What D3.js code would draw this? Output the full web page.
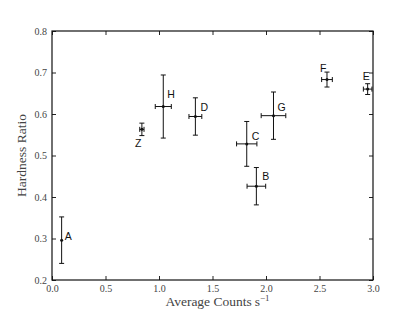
<!DOCTYPE html>
<html>
<head>
<meta charset="UTF-8">
<script src="https://d3js.org/d3.v7.min.js"></script>
<style>
  body { margin: 0; background: #fff; }
  svg { display: block; }
  .tick text { font-family: "Liberation Serif", serif; font-size: 10px; fill: #444; }
</style>
</head>
<body>
<svg width="415" height="312"></svg>
<script>
  // sources and their measurements
  const names = ["A", "Z", "H", "D", "C", "G", "F", "E", "B"];
  const counts = [0.09, 0.84, 1.04, 1.34, 1.82, 2.07, 2.57, 2.95, 1.91];
  const countsErr = [0.0, 0.02, 0.075, 0.06, 0.095, 0.115, 0.05, 0.04, 0.087];
  const hardness = [0.296, 0.563, 0.618, 0.594, 0.528, 0.596, 0.683, 0.660, 0.426];
  const hardnessErr = [0.056, 0.015, 0.076, 0.045, 0.054, 0.057, 0.018, 0.013, 0.045];
  const xTicks = [0.0, 0.5, 1.0, 1.5, 2.0, 2.5, 3.0];
  const yTicks = [0.2, 0.3, 0.4, 0.5, 0.6, 0.7, 0.8];

  const svg = d3.select("svg");
  const mLeft = 52, mRight = 373, mTop = 31, mBottom = 280;

  const x = d3.scaleLinear().domain([0, 3]).range([mLeft, mRight]);
  const y = d3.scaleLinear().domain([0.2, 0.8]).range([mBottom, mTop]);

  // axes with inward ticks on all four sides
  const fmt = d3.format(".1f");
  svg.append("g").attr("transform", `translate(0,${mBottom})`)
    .call(d3.axisBottom(x).tickValues(xTicks).tickFormat(fmt).tickSizeInner(-4).tickSizeOuter(0).tickPadding(5));
  svg.append("g").attr("transform", `translate(${mLeft},0)`)
    .call(d3.axisLeft(y).tickValues(yTicks).tickFormat(fmt).tickSizeInner(-4).tickSizeOuter(0).tickPadding(5));
  svg.append("g").attr("transform", `translate(0,${mTop})`)
    .call(d3.axisTop(x).tickValues(xTicks).tickFormat("").tickSizeInner(-4).tickSizeOuter(0));
  svg.append("g").attr("transform", `translate(${mRight},0)`)
    .call(d3.axisRight(y).tickValues(yTicks).tickFormat("").tickSizeInner(-4).tickSizeOuter(0));
  svg.selectAll(".domain").remove();
  svg.selectAll(".tick line").attr("stroke", "#222");

  svg.append("rect")
    .attr("x", mLeft).attr("y", mTop)
    .attr("width", mRight - mLeft).attr("height", mBottom - mTop)
    .attr("fill", "none").attr("stroke", "#111").attr("stroke-width", 1.2);

  // axis titles
  svg.append("text")
    .attr("x", (mLeft + mRight) / 2 + 5).attr("y", 306)
    .attr("text-anchor", "middle")
    .style("font-family", "Liberation Serif, serif").style("font-size", "13.5px").style("fill", "#444")
    .html('Average Counts<tspan dx="3">s</tspan><tspan dy="-5" font-size="9px">−1</tspan>');

  svg.append("text")
    .attr("transform", `translate(26,${(mTop + mBottom) / 2}) rotate(-90)`)
    .attr("text-anchor", "middle")
    .style("font-family", "Liberation Serif, serif").style("font-size", "13.5px").style("fill", "#444")
    .text("Hardness Ratio");

  // error bars
  const pts = names.map((n, i) => ({
    name: n, cx: counts[i], ex: countsErr[i], cy: hardness[i], ey: hardnessErr[i]
  }));
  const cap = 2.5;
  const g = svg.append("g").attr("stroke", "#111").attr("stroke-width", 1);

  pts.forEach(d => {
    const px = x(d.cx), py = y(d.cy);
    const y0 = y(d.cy - d.ey), y1 = y(d.cy + d.ey);
    g.append("line").attr("x1", px).attr("x2", px).attr("y1", y0).attr("y2", y1);
    g.append("line").attr("x1", px - cap).attr("x2", px + cap).attr("y1", y0).attr("y2", y0);
    g.append("line").attr("x1", px - cap).attr("x2", px + cap).attr("y1", y1).attr("y2", y1);
    if (d.ex > 0) {
      const x0 = x(d.cx - d.ex), x1 = x(d.cx + d.ex);
      g.append("line").attr("x1", x0).attr("x2", x1).attr("y1", py).attr("y2", py);
      g.append("line").attr("x1", x0).attr("x2", x0).attr("y1", py - cap).attr("y2", py + cap);
      g.append("line").attr("x1", x1).attr("x2", x1).attr("y1", py - cap).attr("y2", py + cap);
    }
    svg.append("circle").attr("cx", px).attr("cy", py).attr("r", 1.5).attr("fill", "#111");
  });

  // point labels, offset in pixels from each point
  const labelOffset = {
    A: [3, 0], Z: [-7, 18], H: [4, -9], D: [5, -5], C: [5, -4],
    G: [4, -5], F: [-7, -8], E: [-5, -9], B: [6, -6]
  };
  svg.append("g").selectAll("text").data(pts).join("text")
    .attr("x", d => x(d.cx) + labelOffset[d.name][0])
    .attr("y", d => y(d.cy) + labelOffset[d.name][1])
    .style("font-family", "Liberation Sans, Arial, sans-serif").style("font-size", "10.5px").style("fill", "#111")
    .text(d => d.name);
</script>
</body>
</html>
